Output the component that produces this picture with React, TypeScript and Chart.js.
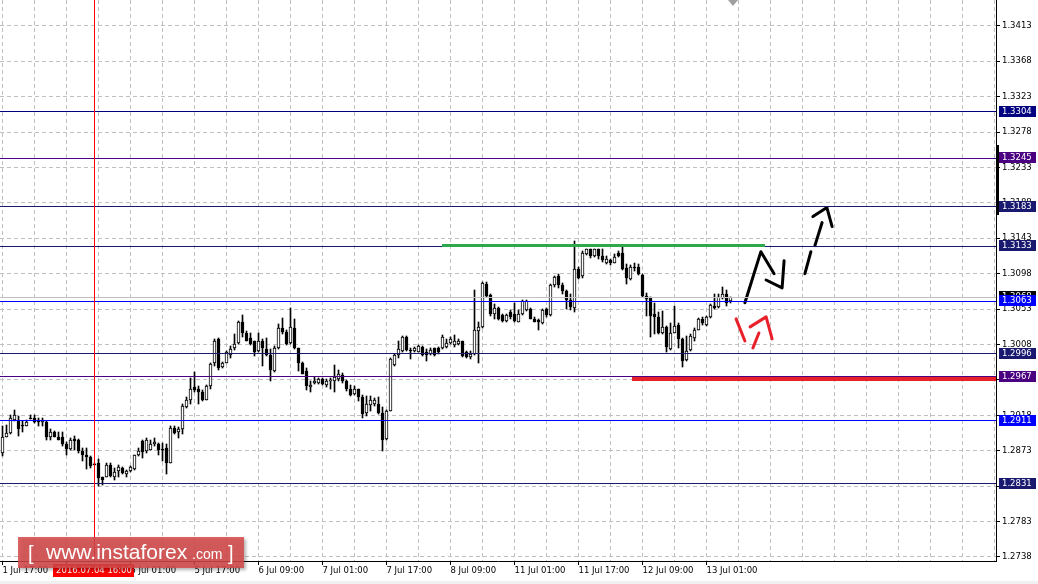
import React, { useEffect, useRef } from 'react';
import { Chart, registerables } from 'chart.js';

Chart.register(...registerables);

const FONT = '"DejaVu Sans", Verdana, sans-serif';
const LOGO_FONT = '"Liberation Sans", Arial, sans-serif';

// H1 candles, bar 0 = 1 Jul 17:00
const OPEN = [
  1.2870, 1.2891, 1.2895, 1.2912, 1.2912, 1.2906, 1.2905, 1.2914, 1.2915, 1.2912,
  1.2909, 1.2909, 1.2891, 1.2897, 1.2891, 1.2891, 1.2881, 1.2875, 1.2888, 1.2887,
  1.2872, 1.2868, 1.2865, 1.2856, 1.2857, 1.2839, 1.2840, 1.2855, 1.2840, 1.2847,
  1.2851, 1.2843, 1.2847, 1.2850, 1.2867, 1.2885, 1.2872, 1.2874, 1.2881, 1.2881,
  1.2875, 1.2877, 1.2857, 1.2902, 1.2897, 1.2901, 1.2928, 1.2938, 1.2954, 1.2952,
  1.2948, 1.2938, 1.2955, 1.2984, 1.3015, 1.2979, 1.2985, 1.2995, 1.3003, 1.3010,
  1.3036, 1.3023, 1.3016, 1.3012, 1.3000, 1.3013, 1.3002, 1.2995, 1.2974, 1.3004,
  1.3029, 1.3024, 1.3010, 1.3029, 1.3003, 1.2985, 1.2974, 1.2954, 1.2959, 1.2959,
  1.2964, 1.2957, 1.2962, 1.2961, 1.2964, 1.2969, 1.2962, 1.2952, 1.2945, 1.2951,
  1.2941, 1.2921, 1.2931, 1.2932, 1.2933, 1.2921, 1.2888, 1.2924, 1.2982, 1.2995,
  1.3000, 1.3018, 1.3001, 1.3000, 1.2999, 1.3005, 1.2999, 1.2996, 1.3003, 1.3003,
  1.3003, 1.3005, 1.3010, 1.3007, 1.3008, 1.3012, 1.2998, 1.2992, 1.2996, 1.3025,
  1.3030, 1.3085, 1.3071, 1.3047, 1.3054, 1.3046, 1.3038, 1.3049, 1.3047, 1.3037,
  1.3047, 1.3052, 1.3053, 1.3041, 1.3039, 1.3035, 1.3053, 1.3046, 1.3083, 1.3095,
  1.3084, 1.3076, 1.3064, 1.3055, 1.3104, 1.3095, 1.3123, 1.3129, 1.3120, 1.3129,
  1.3121, 1.3112, 1.3115, 1.3112, 1.3124, 1.3124, 1.3105, 1.3091, 1.3106, 1.3106,
  1.3096, 1.3070, 1.3068, 1.3047, 1.3043, 1.3022, 1.3030, 1.3002, 1.3023, 1.3033,
  1.3015, 1.2988, 1.3001, 1.3016, 1.3027, 1.3041, 1.3033, 1.3043, 1.3057, 1.3056,
  1.3067, 1.3072, 1.3063,
];
const HIGH = [
  1.2905, 1.2906, 1.2918, 1.2925, 1.2917, 1.2911, 1.2912, 1.2919, 1.2918, 1.2915,
  1.2915, 1.2911, 1.2900, 1.2898, 1.2897, 1.2897, 1.2884, 1.2889, 1.2892, 1.2888,
  1.2877, 1.2877, 1.2866, 1.2857, 1.2862, 1.2840, 1.2857, 1.2857, 1.2851, 1.2855,
  1.2852, 1.2849, 1.2853, 1.2868, 1.2877, 1.2887, 1.2889, 1.2887, 1.2889, 1.2883,
  1.2883, 1.2882, 1.2904, 1.2904, 1.2903, 1.2932, 1.2941, 1.2965, 1.2973, 1.2955,
  1.2950, 1.2957, 1.2985, 1.3015, 1.3016, 1.2986, 1.3000, 1.3006, 1.3021, 1.3038,
  1.3046, 1.3025, 1.3023, 1.3013, 1.3023, 1.3015, 1.3016, 1.3002, 1.3006, 1.3034,
  1.3042, 1.3026, 1.3055, 1.3040, 1.3004, 1.2986, 1.2978, 1.2962, 1.2967, 1.2965,
  1.2965, 1.2964, 1.2965, 1.2982, 1.2976, 1.2972, 1.2963, 1.2957, 1.2955, 1.2952,
  1.2944, 1.2942, 1.2942, 1.2940, 1.2941, 1.2928, 1.2925, 1.2991, 1.2996, 1.3013,
  1.3019, 1.3019, 1.3004, 1.3005, 1.3007, 1.3006, 1.3002, 1.3003, 1.3004, 1.3005,
  1.3020, 1.3015, 1.3018, 1.3020, 1.3015, 1.3013, 1.3000, 1.3000, 1.3077, 1.3037,
  1.3088, 1.3088, 1.3072, 1.3059, 1.3056, 1.3047, 1.3047, 1.3052, 1.3061, 1.3052,
  1.3064, 1.3064, 1.3054, 1.3043, 1.3040, 1.3053, 1.3055, 1.3085, 1.3095, 1.3097,
  1.3086, 1.3077, 1.3072, 1.3139, 1.3106, 1.3127, 1.3130, 1.3130, 1.3130, 1.3130,
  1.3129, 1.3120, 1.3117, 1.3123, 1.3127, 1.3132, 1.3110, 1.3109, 1.3112, 1.3110,
  1.3098, 1.3074, 1.3069, 1.3061, 1.3049, 1.3051, 1.3032, 1.3035, 1.3057, 1.3035,
  1.3016, 1.3019, 1.3021, 1.3029, 1.3042, 1.3043, 1.3044, 1.3060, 1.3072, 1.3072,
  1.3081, 1.3077, 1.3069,
];
const LOW = [
  1.2866, 1.2891, 1.2894, 1.2911, 1.2892, 1.2897, 1.2904, 1.2913, 1.2908, 1.2905,
  1.2904, 1.2887, 1.2887, 1.2890, 1.2886, 1.2879, 1.2867, 1.2874, 1.2874, 1.2870,
  1.2860, 1.2850, 1.2851, 1.2855, 1.2828, 1.2829, 1.2840, 1.2840, 1.2836, 1.2840,
  1.2844, 1.2840, 1.2846, 1.2849, 1.2866, 1.2864, 1.2870, 1.2874, 1.2879, 1.2868,
  1.2860, 1.2844, 1.2857, 1.2894, 1.2889, 1.2894, 1.2927, 1.2933, 1.2947, 1.2933,
  1.2936, 1.2937, 1.2952, 1.2981, 1.2976, 1.2978, 1.2984, 1.2991, 1.3001, 1.3008,
  1.3017, 1.3012, 1.3007, 1.2993, 1.2999, 1.2981, 1.2993, 1.2962, 1.2973, 1.3002,
  1.3021, 1.3007, 1.3009, 1.3002, 1.2974, 1.2970, 1.2950, 1.2947, 1.2958, 1.2958,
  1.2957, 1.2954, 1.2951, 1.2947, 1.2961, 1.2959, 1.2949, 1.2943, 1.2944, 1.2936,
  1.2915, 1.2917, 1.2924, 1.2930, 1.2920, 1.2873, 1.2887, 1.2923, 1.2981, 1.2991,
  1.2999, 1.3000, 1.2990, 1.2998, 1.2998, 1.2994, 1.2987, 1.2995, 1.2993, 1.2996,
  1.3002, 1.3003, 1.3009, 1.3005, 1.3007, 1.2992, 1.2991, 1.2989, 1.2995, 1.2985,
  1.3029, 1.3069, 1.3044, 1.3040, 1.3039, 1.3037, 1.3037, 1.3041, 1.3037, 1.3036,
  1.3046, 1.3050, 1.3040, 1.3036, 1.3027, 1.3034, 1.3043, 1.3044, 1.3081, 1.3080,
  1.3072, 1.3053, 1.3052, 1.3049, 1.3091, 1.3093, 1.3122, 1.3118, 1.3119, 1.3117,
  1.3113, 1.3110, 1.3109, 1.3111, 1.3119, 1.3103, 1.3085, 1.3090, 1.3102, 1.3096,
  1.3069, 1.3044, 1.3017, 1.3021, 1.3021, 1.3021, 1.2999, 1.3001, 1.3022, 1.3004,
  1.2979, 1.2987, 1.3000, 1.3013, 1.3026, 1.3033, 1.3032, 1.3042, 1.3053, 1.3054,
  1.3066, 1.3057, 1.3061,
];
const CLOSE = [
  1.2891, 1.2895, 1.2914, 1.2918, 1.2900, 1.2905, 1.2909, 1.2913, 1.2909, 1.2909,
  1.2912, 1.2891, 1.2897, 1.2891, 1.2887, 1.2881, 1.2875, 1.2887, 1.2885, 1.2872,
  1.2868, 1.2865, 1.2853, 1.2855, 1.2838, 1.2836, 1.2855, 1.2841, 1.2846, 1.2852,
  1.2845, 1.2847, 1.2852, 1.2867, 1.2872, 1.2871, 1.2886, 1.2881, 1.2884, 1.2874,
  1.2874, 1.2857, 1.2902, 1.2896, 1.2900, 1.2930, 1.2938, 1.2952, 1.2950, 1.2948,
  1.2938, 1.2955, 1.2983, 1.3013, 1.2978, 1.2985, 1.2998, 1.3002, 1.3009, 1.3037,
  1.3022, 1.3013, 1.3009, 1.2999, 1.3012, 1.3003, 1.2995, 1.2976, 1.3004, 1.3029,
  1.3024, 1.3009, 1.3030, 1.3003, 1.2985, 1.2971, 1.2955, 1.2957, 1.2961, 1.2964,
  1.2958, 1.2962, 1.2963, 1.2967, 1.2970, 1.2961, 1.2951, 1.2944, 1.2952, 1.2941,
  1.2920, 1.2932, 1.2938, 1.2938, 1.2921, 1.2887, 1.2924, 1.2989, 1.2995, 1.3002,
  1.3018, 1.3001, 1.3000, 1.3003, 1.3006, 1.2995, 1.2995, 1.3001, 1.2995, 1.2998,
  1.3018, 1.3010, 1.3015, 1.3012, 1.3012, 1.2993, 1.2992, 1.2996, 1.3026, 1.3030,
  1.3086, 1.3070, 1.3047, 1.3054, 1.3041, 1.3038, 1.3046, 1.3043, 1.3038, 1.3047,
  1.3063, 1.3063, 1.3041, 1.3037, 1.3036, 1.3052, 1.3046, 1.3084, 1.3094, 1.3083,
  1.3076, 1.3064, 1.3056, 1.3104, 1.3093, 1.3124, 1.3129, 1.3120, 1.3129, 1.3120,
  1.3115, 1.3117, 1.3112, 1.3119, 1.3120, 1.3104, 1.3092, 1.3106, 1.3105, 1.3098,
  1.3070, 1.3066, 1.3044, 1.3043, 1.3022, 1.3030, 1.3005, 1.3023, 1.3032, 1.3015,
  1.2987, 1.3000, 1.3019, 1.3027, 1.3040, 1.3035, 1.3043, 1.3058, 1.3054, 1.3068,
  1.3072, 1.3061, 1.3068,
];

// time axis labels (bar index -> label)
const X_LABEL_BARS = [0, 16, 32, 48, 64, 80, 96, 112, 128, 144, 160, 176];
const X_LABELS = [
  '1 Jul 17:00', '4 Jul 09:00', '5 Jul 01:00', '5 Jul 17:00', '6 Jul 09:00', '7 Jul 01:00',
  '7 Jul 17:00', '8 Jul 09:00', '11 Jul 01:00', '11 Jul 17:00', '12 Jul 09:00', '13 Jul 01:00',
];
// price axis labels
const Y_TICKS = [
  1.2738, 1.2783, 1.2828, 1.2873, 1.2918, 1.2963, 1.3008, 1.3053,
  1.3098, 1.3143, 1.3188, 1.3233, 1.3278, 1.3323, 1.3368, 1.3413,
];

// horizontal levels
const LEVELS = [1.3304, 1.3245, 1.3183, 1.3133, 1.3063, 1.2996, 1.2967, 1.2911, 1.2831];
const LEVEL_COLORS = ['#000080', '#4b0082', '#191970', '#191970', '#0000ff', '#191970', '#4b0082', '#0000ff', '#191970'];
const BID = 1.3068;
const RANGE_MARK = [1.3172, 1.3261];

const MARKED_BAR = 23;
const MARKED_LABEL = '2016.07.04 16:00';

const GREEN_LEVEL = 1.3134;
const GREEN_SPAN = [109.9, 190.6];
const RED_LEVEL = 1.2964;
const RED_START = 157.4;

// hand-drawn forecast strokes: [bar index, price]
const BLACK_STROKES: number[][][] = [
  [[185.6, 1.3061], [189.6, 1.3126], [192.9, 1.3098]],
  [[190.9, 1.3090], [194.9, 1.3080], [195.4, 1.31145]],
  [[200.6, 1.3098], [202.1, 1.3126]],
  [[203.1, 1.31337], [204.9, 1.3163]],
  [[202.6, 1.31706], [206.1, 1.31821], [207.4, 1.31579]],
];
const RED_STROKES: number[][][] = [
  [[183.4, 1.30406], [185.6, 1.30125]],
  [[187.6, 1.30036], [189.1, 1.30227]],
  [[186.9, 1.30304], [190.9, 1.30431], [192.4, 1.30151]],
];

const SHIFT_MARK = 182.6;

const X_MIN = -0.625;
const X_MAX = 248.375;
const Y_MAX = 1.34459;
const Y_MIN = 1.27328;

const overlayPlugin = {
  id: 'overlay',
  beforeDatasetsDraw(chart: any) {
    [0, 1].forEach((di) => {
      const meta = chart.getDatasetMeta(di);
      meta.data.forEach((el: any) => {
        const top = Math.round(Math.min(el.y, el.base));
        let bot = Math.round(Math.max(el.y, el.base));
        if (bot - top < 1) bot = top + 1;
        el.y = top;
        el.base = bot;
      });
    });
  },
  afterDatasetsDraw(chart: any) {
    const { ctx, chartArea: a, scales } = chart;
    const xs = scales.x;
    const ys = scales.y;
    ctx.save();
    const level = (price: number, color: string, x0: number, x1: number, w: number) => {
      const py = Math.round(ys.getPixelForValue(price) - w / 2);
      ctx.fillStyle = color;
      ctx.fillRect(Math.round(x0), py, Math.round(x1 - x0), w);
    };
    level(BID, '#c0c0c0', a.left, a.right, 1);
    LEVELS.forEach((lv, k) => level(lv, LEVEL_COLORS[k], a.left, a.right, 1));
    level(GREEN_LEVEL, '#2ea84f', xs.getPixelForValue(GREEN_SPAN[0]), xs.getPixelForValue(GREEN_SPAN[1]), 3);
    level(RED_LEVEL, '#e8202a', xs.getPixelForValue(RED_START), a.right, 4);
    const vx = Math.floor(xs.getPixelForValue(MARKED_BAR));
    ctx.fillStyle = '#ff0000';
    ctx.fillRect(vx, a.top, 1, a.bottom - a.top);
    ctx.restore();
  },
  afterDraw(chart: any) {
    const { ctx, chartArea: a, scales } = chart;
    const xs = scales.x;
    const ys = scales.y;
    ctx.save();
    ctx.font = `8.5px ${FONT}`;
    ctx.textBaseline = 'middle';
    ctx.textAlign = 'left';
    const tag = (price: number, bg: string, text: string) => {
      const cy = Math.round(ys.getPixelForValue(price)) - 1;
      ctx.fillStyle = bg;
      ctx.fillRect(a.right + 3, cy - 5, 37, 11);
      ctx.fillStyle = '#ffffff';
      ctx.fillText(text, a.right + 6, cy + 0.5);
    };
    tag(BID, '#000000', BID.toFixed(4));
    LEVELS.forEach((lv, k) => tag(lv, LEVEL_COLORS[k], lv.toFixed(4)));

    const r1 = ys.getPixelForValue(RANGE_MARK[1]);
    const r2 = ys.getPixelForValue(RANGE_MARK[0]);
    ctx.fillStyle = '#000000';
    ctx.fillRect(a.right, Math.round(r1), 3, Math.round(r2 - r1));

    const mx = Math.floor(xs.getPixelForValue(MARKED_BAR));
    ctx.fillStyle = '#ff0000';
    ctx.fillRect(mx - 41, a.bottom + 3, 81, 13);
    ctx.fillStyle = '#ffffff';
    ctx.textAlign = 'center';
    ctx.fillText(MARKED_LABEL, mx, a.bottom + 10);

    const sx = Math.round(xs.getPixelForValue(SHIFT_MARK));
    ctx.fillStyle = '#a0a0a0';
    ctx.beginPath();
    ctx.moveTo(sx - 5, a.top);
    ctx.lineTo(sx + 5, a.top);
    ctx.lineTo(sx, a.top + 6);
    ctx.closePath();
    ctx.fill();

    ctx.shadowColor = 'rgba(0,0,0,0.35)';
    ctx.shadowBlur = 3;
    ctx.shadowOffsetX = 2;
    ctx.shadowOffsetY = 2;
    ctx.fillStyle = 'rgba(214, 72, 72, 0.85)';
    ctx.fillRect(18, 537, 226, 31);
    ctx.shadowColor = 'transparent';
    ctx.fillStyle = '#ffffff';
    ctx.textAlign = 'left';
    ctx.textBaseline = 'alphabetic';
    ctx.font = `20px ${LOGO_FONT}`;
    ctx.fillText('[', 28, 560);
    ctx.font = `21px ${LOGO_FONT}`;
    ctx.fillText('www.instaforex', 46, 559);
    ctx.font = `14px ${LOGO_FONT}`;
    ctx.fillText('.com', 192, 559);
    ctx.font = `20px ${LOGO_FONT}`;
    ctx.fillText(']', 228, 560);

    ctx.fillStyle = '#f0f0f0';
    ctx.fillRect(0, chart.height - 3, chart.width, 3);
    ctx.restore();
  },
};

export default function App() {
  const ref = useRef<HTMLCanvasElement | null>(null);

  useEffect(() => {
    document.body.style.margin = '0';
    const canvas = ref.current;
    if (!canvas) return;
    const idx = OPEN.map((_, i) => i);
    const bodies = idx.map((i) => ({ x: i, y: [OPEN[i], CLOSE[i]] }));
    const wicks = idx.map((i) => ({ x: i, y: [LOW[i], HIGH[i]] }));
    const bodyFill = idx.map((i) => (CLOSE[i] >= OPEN[i] ? '#ffffff' : '#000000'));
    const gridBars: number[] = [];
    for (let v = 0; v <= X_MAX; v += 8) gridBars.push(v);

    const stroke = (pts: number[][], color: string) => ({
      type: 'line' as const,
      data: pts.map((p) => ({ x: p[0], y: p[1] })),
      borderColor: color,
      borderWidth: 3,
      borderCapStyle: 'round' as const,
      borderJoinStyle: 'round' as const,
      pointRadius: 0,
      tension: 0,
      order: 1,
    });

    const datasets: any[] = [
      {
        type: 'bar',
        data: bodies,
        backgroundColor: bodyFill,
        borderColor: '#000000',
        borderWidth: 1,
        borderSkipped: false,
        barThickness: 3,
        minBarLength: 1,
        grouped: false,
        order: 9,
      },
      {
        type: 'bar',
        data: wicks,
        backgroundColor: '#000000',
        borderWidth: 0,
        barThickness: 1,
        grouped: false,
        order: 10,
      },
      ...BLACK_STROKES.map((s) => stroke(s, '#000000')),
      ...RED_STROKES.map((s) => stroke(s, '#e8202a')),
    ];

    const noPad = (s: any) => {
      s.paddingTop = 0;
      s.paddingBottom = 0;
      s.paddingLeft = 0;
      s.paddingRight = 0;
    };

    const chart = new Chart(canvas, {
      type: 'bar',
      data: { datasets },
      options: {
        animation: false,
        responsive: false,
        devicePixelRatio: 1,
        events: [],
        layout: { padding: 0 },
        plugins: { legend: { display: false }, tooltip: { enabled: false } },
        scales: {
          x: {
            type: 'linear',
            min: X_MIN,
            max: X_MAX,
            offset: false,
            afterBuildTicks: (s: any) => {
              s.ticks = gridBars.map((v) => ({ value: v }));
            },
            afterFit: (s: any) => {
              s.height = 23;
              noPad(s);
            },
            grid: {
              offset: false,
              color: '#c0c0c0',
              lineWidth: 1,
              drawTicks: true,
              tickLength: 4,
              tickWidth: 1,
              tickColor: (c: any) =>
                c.tick && X_LABEL_BARS.includes(c.tick.value) ? '#000000' : 'rgba(0,0,0,0)',
            },
            border: { display: true, color: '#000000', width: 1, dash: [4, 3] },
            ticks: {
              autoSkip: false,
              maxRotation: 0,
              minRotation: 0,
              align: 'start',
              padding: 1,
              color: '#000000',
              font: { size: 8.5, family: FONT },
              callback: (v: any) => {
                const k = X_LABEL_BARS.indexOf(Number(v));
                return k >= 0 ? X_LABELS[k] : '';
              },
            },
          },
          y: {
            type: 'linear',
            position: 'right',
            min: Y_MIN,
            max: Y_MAX,
            afterBuildTicks: (s: any) => {
              s.ticks = Y_TICKS.map((v) => ({ value: v }));
            },
            afterFit: (s: any) => {
              s.width = 42;
              noPad(s);
            },
            grid: {
              color: '#c0c0c0',
              lineWidth: 1,
              tickLength: 4,
              tickColor: '#000000',
              tickBorderDash: [],
            },
            border: { display: true, color: '#000000', width: 1, dash: [4, 3] },
            ticks: {
              padding: 2,
              color: '#000000',
              font: { size: 8.5, family: FONT },
              callback: (v: any) => Number(v).toFixed(4),
            },
          },
        },
      } as any,
      plugins: [overlayPlugin],
    });
    return () => chart.destroy();
  }, []);

  return (
    <canvas
      ref={ref}
      width={1038}
      height={584}
      style={{ display: 'block', width: '1038px', height: '584px' }}
    />
  );
}
